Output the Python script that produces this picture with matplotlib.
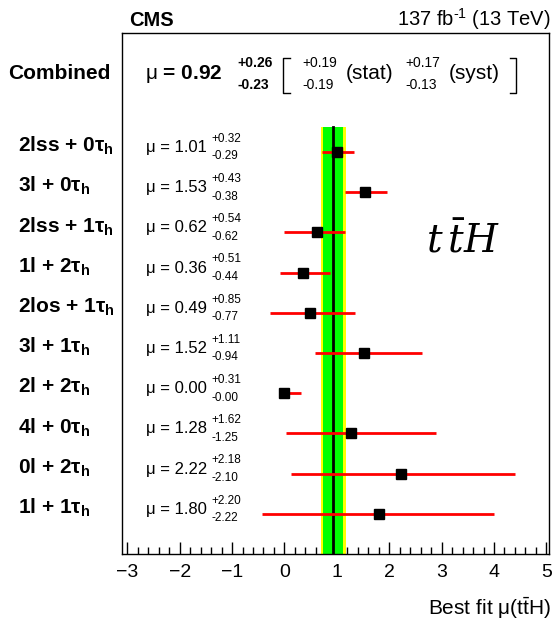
import numpy as np
import matplotlib
matplotlib.use('Agg')
import matplotlib.pyplot as plt
import matplotlib.transforms as transforms
from matplotlib.ticker import MultipleLocator

plt.rcParams['font.family'] = ['Liberation Sans', 'DejaVu Sans']
plt.rcParams['mathtext.fontset'] = 'custom'
plt.rcParams['mathtext.rm'] = 'Liberation Sans'
plt.rcParams['mathtext.bf'] = 'Liberation Sans:bold'
plt.rcParams['mathtext.it'] = 'Liberation Sans:italic'

# channels, top to bottom
channels = ['2lss + 0', '3l + 0', '2lss + 1', '1l + 2', '2los + 1',
            '3l + 1', '2l + 2', '4l + 0', '0l + 2', '1l + 1']
mu = np.array([1.01, 1.53, 0.62, 0.36, 0.49, 1.52, 0.00, 1.28, 2.22, 1.80])
err_up = np.array([0.32, 0.43, 0.54, 0.51, 0.85, 1.11, 0.31, 1.62, 2.18, 2.20])
err_dn = np.array([0.29, 0.38, 0.62, 0.44, 0.77, 0.94, 0.00, 1.25, 2.10, 2.22])

# combined result
mu_comb = 0.92
comb_up, comb_dn = 0.26, 0.23
stat_up, stat_dn = 0.19, 0.19
syst_up, syst_dn = 0.17, 0.13

rows = np.arange(len(channels))
y_comb = -1.82      # baseline of the combined line
band_top = -0.62
ylo, yhi = 10.0, -2.96

fig = plt.figure(figsize=(5.53, 6.21), dpi=100)
ax = fig.add_axes([122/553, 1-554/621, 427/553, 521/621])
ax.set_xlim(-3.1, 5.05)
ax.set_ylim(ylo, yhi)

# total (yellow) and stat (green) bands + central value
ax.fill_betweenx([band_top, ylo], mu_comb - comb_dn, mu_comb + comb_up,
                 color='#ffff00', lw=0, zorder=1)
ax.fill_betweenx([band_top, ylo], mu_comb - stat_dn, mu_comb + stat_up,
                 color='#00ff00', lw=0, zorder=2)
ax.plot([mu_comb, mu_comb], [band_top, ylo], color='black', lw=2, zorder=3)

ax.errorbar(mu, rows, xerr=[err_dn, err_up], fmt='s', color='black',
            ecolor='#ff0000', elinewidth=2, capsize=0, markersize=6.5, zorder=4)

# per-channel labels
trans = transforms.blended_transform_factory(fig.transFigure, ax.transData)
for i, ch in enumerate(channels):
    ax.text(18/553, i, ch + 'τ$_\\mathbf{h}$', transform=trans, fontsize=15,
            fontweight='bold', va='baseline', ha='left')
    ax.text(-2.64, i, 'μ = %.2f' % mu[i], fontsize=12, va='baseline')
    ax.text(-1.40, i - 0.33, '+%.2f' % err_up[i], fontsize=8.5, va='center')
    ax.text(-1.40, i + 0.11, '-%.2f' % err_dn[i], fontsize=8.5, va='center')

# combined line
ax.text(8/553, y_comb, 'Combined', transform=trans, fontsize=15,
        fontweight='bold', va='baseline')
ax.text(-2.66, y_comb, r'$\mathrm{\mu}$ = %.2f' % mu_comb, fontsize=15,
        fontweight='bold', va='baseline')
ax.text(-0.90, y_comb - 0.39, '+%.2f' % comb_up, fontsize=10, fontweight='bold', va='center')
ax.text(-0.90, y_comb + 0.15, '-%.2f' % comb_dn, fontsize=10, fontweight='bold', va='center')
ax.text(0.34, y_comb - 0.39, '+%.2f' % stat_up, fontsize=10, va='center')
ax.text(0.34, y_comb + 0.15, '-%.2f' % stat_dn, fontsize=10, va='center')
ax.text(1.17, y_comb, '(stat)', fontsize=15, va='baseline')
ax.text(2.31, y_comb - 0.39, '+%.2f' % syst_up, fontsize=10, va='center')
ax.text(2.31, y_comb + 0.15, '-%.2f' % syst_dn, fontsize=10, va='center')
ax.text(3.14, y_comb, '(syst)', fontsize=15, va='baseline')

# square brackets
b0, b1 = y_comb - 0.52, y_comb + 0.35
ax.plot([0.11, -0.02, -0.02, 0.11], [b0, b0, b1, b1], color='black', lw=1)
ax.plot([4.30, 4.42, 4.42, 4.30], [b0, b0, b1, b1], color='black', lw=1)

ax.text(2.70, 2.51, r'$t\,\bar{t}H$', fontsize=28, math_fontfamily='dejavuserif',
        va='baseline')

# axes styling
ax.set_yticks([])
ax.xaxis.set_major_locator(MultipleLocator(1))
ax.xaxis.set_minor_locator(MultipleLocator(0.2))
ax.tick_params(axis='x', which='major', direction='in', length=9, width=1,
               labelsize=14, pad=7)
ax.tick_params(axis='x', which='minor', direction='in', length=5, width=1)
for s in ax.spines.values():
    s.set_linewidth(1)

fig.text(129/553, 1-26/621, 'CMS', fontsize=14.5, fontweight='bold', va='baseline')
fig.text(551/553, 1-26/621, '137 fb$^{\\mathregular{\u2010 1}}$ (13 TeV)'.replace('\u2010 ', '\u2010'),
         fontsize=14.5, ha='right', va='baseline')
fig.text(551/553, 1-615/621, 'Best fit μ($\\mathregular{t\\bar{t}H}$)', fontsize=15,
         ha='right', va='baseline')

fig.savefig('out.png', dpi=100)
